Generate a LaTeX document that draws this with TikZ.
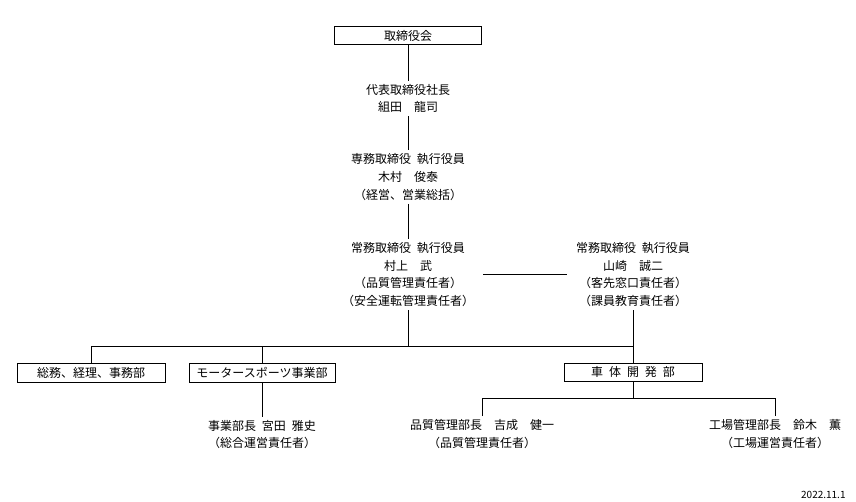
\documentclass[tikz,border=0pt]{standalone}
\usepackage{fontspec}
\setmainfont{Noto Sans CJK JP}[WordSpace=2.2]
\usepackage{tikz}

\begin{document}
\begin{tikzpicture}[x=1pt,y=-1pt,line width=0.9pt,
    post/.style={draw=black,line width=1pt,inner sep=0pt,minimum height=18pt,font=\fontsize{12}{14}\selectfont},
    person/.style={align=center,inner xsep=9pt,inner ysep=3pt,font=\fontsize{12}{17.7}\selectfont}]
\useasboundingbox (0,0) rectangle (856,502);

                    \node[post,minimum width=147pt] (board) at (408,36) {取締役会};
                    \node[person] (ceo) at (408,98.5) {代表取締役社長\\組田　龍司};
                    \node[person] (senmu) at (408,177) {専務取締役 執行役員\\木村　俊泰\\（経営、営業総括）};
                    \node[person] (murakami) at (408,274.5) {常務取締役 執行役員\\村上　武\\（品質管理責任者）\\（安全運転管理責任者）};
                    \node[person] (yamazaki) at (633,274.5) {常務取締役 執行役員\\山崎　誠二\\（客先窓口責任者）\\（課員教育責任者）};
                    \node[post,minimum width=148pt,minimum height=19pt] (soumu) at (91,372.5) {総務、経理、事務部};
                    \node[post,minimum width=146pt,minimum height=19pt] (motor) at (262,372.5) {モータースポーツ事業部};
                    \node[post,minimum width=138pt] (shatai) at (633,372) {車 体 開 発 部};
                    \node[person] (miyata) at (262,434.5) {事業部長 宮田 雅史\\（総合運営責任者）};
                    \node[person] (yoshinari) at (482,434) {品質管理部長　吉成　健一\\（品質管理責任者）};
                    \node[person] (suzuki) at (775,434) {工場管理部長　鈴木　薫\\（工場運営責任者）};
                    \node[font=\fontsize{10}{12}\selectfont,anchor=east,inner sep=0pt] (date) at (846,495) {2022.11.1};

                    \coordinate (bus) at (408,346);
                    \coordinate (bus2) at (633,398);

                    \draw (board) -- (ceo);
                    \draw (ceo) -- (senmu);
                    \draw (senmu) -- (murakami);
                    \draw (murakami) -- (yamazaki);
                    \draw (murakami) -- (bus);
                    \draw (soumu.north) |- (bus);
                    \draw (motor.north) |- (bus);
                    \draw (bus) -| (shatai.north);
                    \draw (yamazaki) -- (shatai);
                    \draw (motor) -- (miyata);
                    \draw (shatai) -- (bus2);
                    \draw (yoshinari.north) |- (bus2);
                    \draw (suzuki.north) |- (bus2);
\end{tikzpicture}
\end{document}
